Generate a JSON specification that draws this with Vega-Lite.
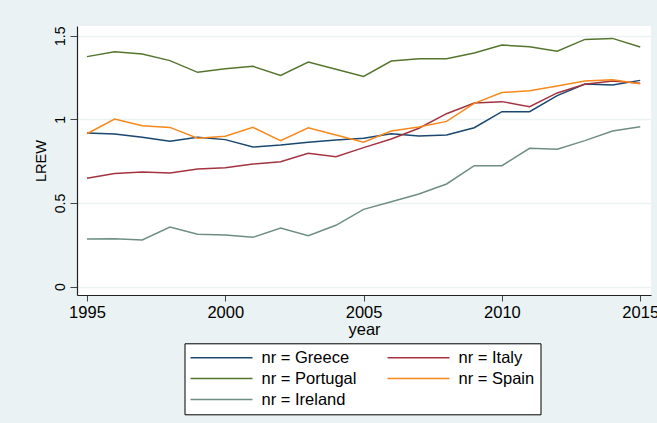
{
  "$schema": "https://vega.github.io/schema/vega-lite/v6.json",
  "width": 574,
  "height": 269,
  "autosize": "none",
  "padding": {"left": 77, "top": 26, "right": 6, "bottom": 128},
  "background": "#eaf2f3",
  "config": {
    "view": {"fill": "white", "stroke": null},
    "font": "Liberation Sans"
  },
  "data": {
    "values": [
      {"year": 1995, "nr": "Greece", "LREW": 0.918},
      {"year": 1996, "nr": "Greece", "LREW": 0.912},
      {"year": 1997, "nr": "Greece", "LREW": 0.893},
      {"year": 1998, "nr": "Greece", "LREW": 0.869},
      {"year": 1999, "nr": "Greece", "LREW": 0.893},
      {"year": 2000, "nr": "Greece", "LREW": 0.879},
      {"year": 2001, "nr": "Greece", "LREW": 0.835},
      {"year": 2002, "nr": "Greece", "LREW": 0.847},
      {"year": 2003, "nr": "Greece", "LREW": 0.863},
      {"year": 2004, "nr": "Greece", "LREW": 0.877},
      {"year": 2005, "nr": "Greece", "LREW": 0.887},
      {"year": 2006, "nr": "Greece", "LREW": 0.914},
      {"year": 2007, "nr": "Greece", "LREW": 0.901},
      {"year": 2008, "nr": "Greece", "LREW": 0.907},
      {"year": 2009, "nr": "Greece", "LREW": 0.950},
      {"year": 2010, "nr": "Greece", "LREW": 1.046},
      {"year": 2011, "nr": "Greece", "LREW": 1.046},
      {"year": 2012, "nr": "Greece", "LREW": 1.142},
      {"year": 2013, "nr": "Greece", "LREW": 1.211},
      {"year": 2014, "nr": "Greece", "LREW": 1.205},
      {"year": 2015, "nr": "Greece", "LREW": 1.233},
      {"year": 1995, "nr": "Italy", "LREW": 0.648},
      {"year": 1996, "nr": "Italy", "LREW": 0.676},
      {"year": 1997, "nr": "Italy", "LREW": 0.686},
      {"year": 1998, "nr": "Italy", "LREW": 0.680},
      {"year": 1999, "nr": "Italy", "LREW": 0.703},
      {"year": 2000, "nr": "Italy", "LREW": 0.711},
      {"year": 2001, "nr": "Italy", "LREW": 0.733},
      {"year": 2002, "nr": "Italy", "LREW": 0.747},
      {"year": 2003, "nr": "Italy", "LREW": 0.797},
      {"year": 2004, "nr": "Italy", "LREW": 0.777},
      {"year": 2005, "nr": "Italy", "LREW": 0.831},
      {"year": 2006, "nr": "Italy", "LREW": 0.883},
      {"year": 2007, "nr": "Italy", "LREW": 0.947},
      {"year": 2008, "nr": "Italy", "LREW": 1.034},
      {"year": 2009, "nr": "Italy", "LREW": 1.098},
      {"year": 2010, "nr": "Italy", "LREW": 1.106},
      {"year": 2011, "nr": "Italy", "LREW": 1.076},
      {"year": 2012, "nr": "Italy", "LREW": 1.158},
      {"year": 2013, "nr": "Italy", "LREW": 1.210},
      {"year": 2014, "nr": "Italy", "LREW": 1.229},
      {"year": 2015, "nr": "Italy", "LREW": 1.216},
      {"year": 1995, "nr": "Portugal", "LREW": 1.375},
      {"year": 1996, "nr": "Portugal", "LREW": 1.404},
      {"year": 1997, "nr": "Portugal", "LREW": 1.391},
      {"year": 1998, "nr": "Portugal", "LREW": 1.351},
      {"year": 1999, "nr": "Portugal", "LREW": 1.281},
      {"year": 2000, "nr": "Portugal", "LREW": 1.303},
      {"year": 2001, "nr": "Portugal", "LREW": 1.317},
      {"year": 2002, "nr": "Portugal", "LREW": 1.263},
      {"year": 2003, "nr": "Portugal", "LREW": 1.343},
      {"year": 2004, "nr": "Portugal", "LREW": 1.299},
      {"year": 2005, "nr": "Portugal", "LREW": 1.257},
      {"year": 2006, "nr": "Portugal", "LREW": 1.349},
      {"year": 2007, "nr": "Portugal", "LREW": 1.363},
      {"year": 2008, "nr": "Portugal", "LREW": 1.363},
      {"year": 2009, "nr": "Portugal", "LREW": 1.397},
      {"year": 2010, "nr": "Portugal", "LREW": 1.444},
      {"year": 2011, "nr": "Portugal", "LREW": 1.434},
      {"year": 2012, "nr": "Portugal", "LREW": 1.407},
      {"year": 2013, "nr": "Portugal", "LREW": 1.478},
      {"year": 2014, "nr": "Portugal", "LREW": 1.484},
      {"year": 2015, "nr": "Portugal", "LREW": 1.432},
      {"year": 1995, "nr": "Spain", "LREW": 0.914},
      {"year": 1996, "nr": "Spain", "LREW": 1.002},
      {"year": 1997, "nr": "Spain", "LREW": 0.962},
      {"year": 1998, "nr": "Spain", "LREW": 0.952},
      {"year": 1999, "nr": "Spain", "LREW": 0.887},
      {"year": 2000, "nr": "Spain", "LREW": 0.899},
      {"year": 2001, "nr": "Spain", "LREW": 0.952},
      {"year": 2002, "nr": "Spain", "LREW": 0.873},
      {"year": 2003, "nr": "Spain", "LREW": 0.950},
      {"year": 2004, "nr": "Spain", "LREW": 0.907},
      {"year": 2005, "nr": "Spain", "LREW": 0.863},
      {"year": 2006, "nr": "Spain", "LREW": 0.930},
      {"year": 2007, "nr": "Spain", "LREW": 0.954},
      {"year": 2008, "nr": "Spain", "LREW": 0.988},
      {"year": 2009, "nr": "Spain", "LREW": 1.096},
      {"year": 2010, "nr": "Spain", "LREW": 1.160},
      {"year": 2011, "nr": "Spain", "LREW": 1.171},
      {"year": 2012, "nr": "Spain", "LREW": 1.199},
      {"year": 2013, "nr": "Spain", "LREW": 1.229},
      {"year": 2014, "nr": "Spain", "LREW": 1.237},
      {"year": 2015, "nr": "Spain", "LREW": 1.213},
      {"year": 1995, "nr": "Ireland", "LREW": 0.285},
      {"year": 1996, "nr": "Ireland", "LREW": 0.287},
      {"year": 1997, "nr": "Ireland", "LREW": 0.279},
      {"year": 1998, "nr": "Ireland", "LREW": 0.357},
      {"year": 1999, "nr": "Ireland", "LREW": 0.313},
      {"year": 2000, "nr": "Ireland", "LREW": 0.309},
      {"year": 2001, "nr": "Ireland", "LREW": 0.295},
      {"year": 2002, "nr": "Ireland", "LREW": 0.351},
      {"year": 2003, "nr": "Ireland", "LREW": 0.305},
      {"year": 2004, "nr": "Ireland", "LREW": 0.367},
      {"year": 2005, "nr": "Ireland", "LREW": 0.462},
      {"year": 2006, "nr": "Ireland", "LREW": 0.508},
      {"year": 2007, "nr": "Ireland", "LREW": 0.554},
      {"year": 2008, "nr": "Ireland", "LREW": 0.614},
      {"year": 2009, "nr": "Ireland", "LREW": 0.723},
      {"year": 2010, "nr": "Ireland", "LREW": 0.723},
      {"year": 2011, "nr": "Ireland", "LREW": 0.827},
      {"year": 2012, "nr": "Ireland", "LREW": 0.821},
      {"year": 2013, "nr": "Ireland", "LREW": 0.873},
      {"year": 2014, "nr": "Ireland", "LREW": 0.930},
      {"year": 2015, "nr": "Ireland", "LREW": 0.956}
    ]
  },
  "mark": {"type": "line", "strokeWidth": 1.5},
  "encoding": {
    "x": {
      "field": "year",
      "type": "quantitative",
      "scale": {"domain": [1994.64, 2015.39], "nice": false, "zero": false},
      "axis": {
        "values": [1995, 2000, 2005, 2010, 2015],
        "format": "d",
        "grid": false,
        "domainColor": "#222222",
        "domainWidth": 1.2,
        "tickColor": "#444444",
        "tickSize": 6,
        "labelFontSize": 16.5,
        "labelColor": "black",
        "labelPadding": 3,
        "labelFlush": false,
        "labelOverlap": false,
        "title": "year",
        "titleFontSize": 16.5,
        "titleFontWeight": "normal",
        "titleColor": "black",
        "titleBaseline": "middle",
        "titleY": 34
      }
    },
    "y": {
      "field": "LREW",
      "type": "quantitative",
      "scale": {"domain": [-0.0496, 1.558], "nice": false, "zero": false},
      "axis": {
        "values": [0, 0.5, 1, 1.5],
        "labelExpr": "datum.value == 0 ? '0' : datum.value == 1 ? '1' : datum.label",
        "grid": true,
        "gridColor": "#eaf2f3",
        "gridWidth": 1.5,
        "domainColor": "#222222",
        "domainWidth": 1.2,
        "tickColor": "#444444",
        "tickSize": 7,
        "labelAngle": -90,
        "labelAlign": "center",
        "labelBaseline": "alphabetic",
        "labelFontSize": 14,
        "labelColor": "black",
        "labelPadding": 6,
        "labelFlush": false,
        "labelOverlap": false,
        "title": "LREW",
        "titleFontSize": 14.5,
        "titleFontWeight": "normal",
        "titleColor": "black",
        "titlePadding": 5
      }
    },
    "color": {
      "field": "nr",
      "type": "nominal",
      "scale": {
        "domain": ["Greece", "Portugal", "Ireland", "Italy", "Spain"],
        "range": ["#1a476f", "#55752f", "#6e8e84", "#a3343f", "#f7881c"]
      },
      "legend": {
        "orient": "none",
        "legendX": 107.5,
        "legendY": 317.3,
        "columns": 2,
        "title": null,
        "symbolType": "M-8.25,0H53.75",
        "symbolSize": 4,
        "symbolStrokeWidth": 1.5,
        "symbolOffset": 0,
        "labelExpr": "'nr = ' + datum.label",
        "labelFontSize": 16.5,
        "labelColor": "black",
        "labelOffset": 54.5,
        "strokeColor": "black",
        "fillColor": "white",
        "padding": 6,
        "columnPadding": 28,
        "rowPadding": 4
      }
    }
  }
}
